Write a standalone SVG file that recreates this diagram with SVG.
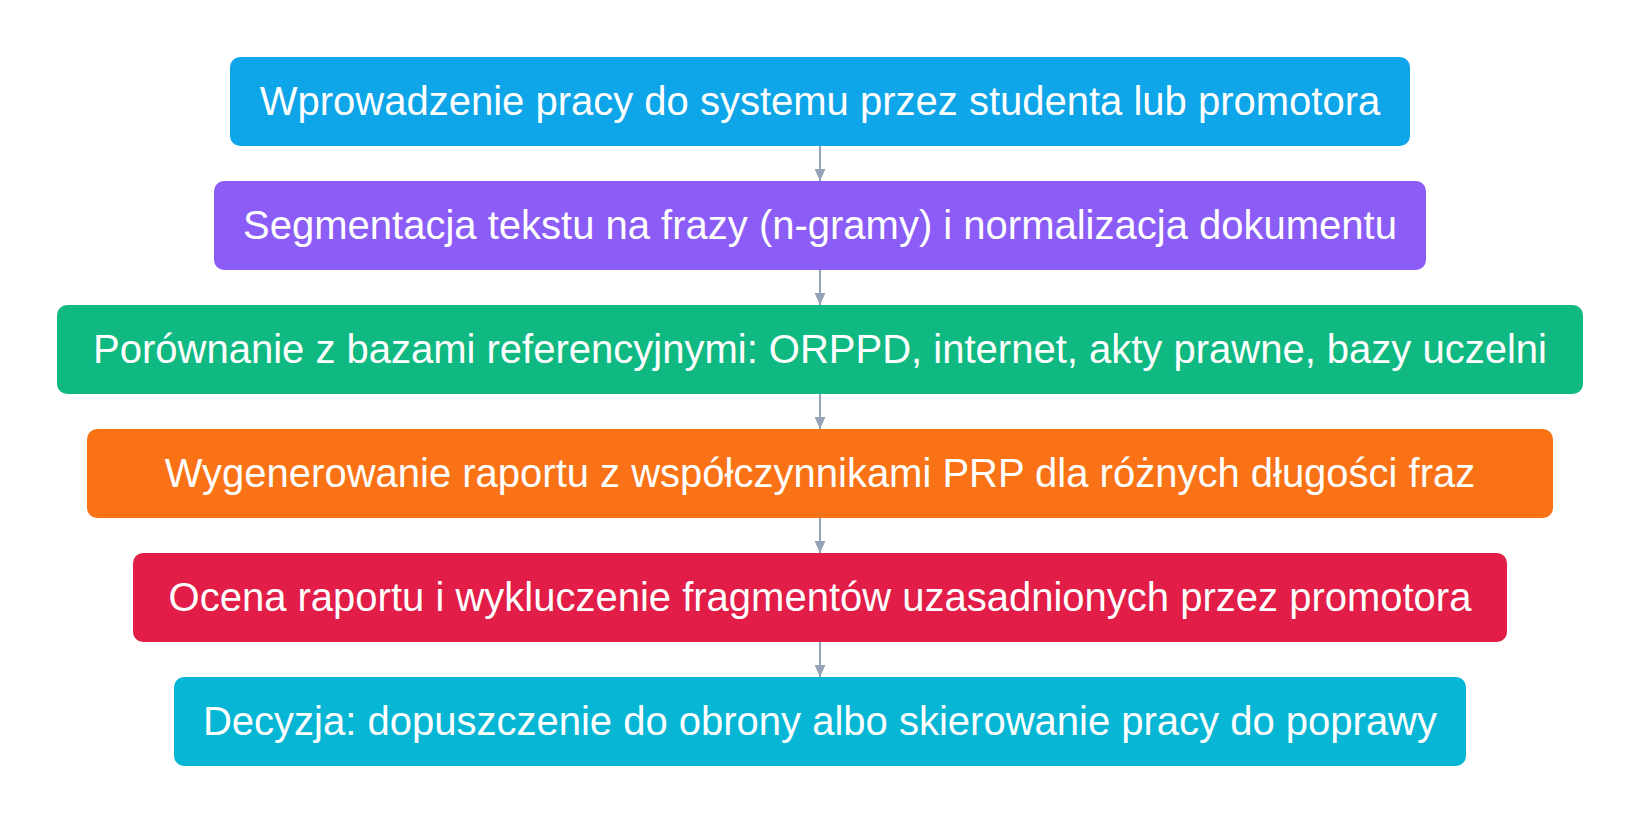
<svg xmlns="http://www.w3.org/2000/svg" width="1640" height="823" viewBox="0 0 1640 823">
<style>
.node text{font-family:"Liberation Sans",Arial,sans-serif;font-size:40px;fill:#ffffff;text-anchor:middle}
.edge{stroke:#94a3b8;stroke-width:2;fill:none}
</style>
<defs>
<marker id="arr" markerWidth="12" markerHeight="11" refX="10" refY="5" orient="auto" markerUnits="userSpaceOnUse" viewBox="0 0 10 10" preserveAspectRatio="none">
<path d="M0,0 L10,5 L0,10 z" fill="#94a3b8"/>
</marker>
</defs>
<rect width="1640" height="823" fill="#ffffff"/>
<g id="connectors">
<line class="edge" x1="820" y1="146" x2="820" y2="181" marker-end="url(#arr)"/>
<line class="edge" x1="820" y1="270" x2="820" y2="305" marker-end="url(#arr)"/>
<line class="edge" x1="820" y1="394" x2="820" y2="429" marker-end="url(#arr)"/>
<line class="edge" x1="820" y1="518" x2="820" y2="553" marker-end="url(#arr)"/>
<line class="edge" x1="820" y1="642" x2="820" y2="677" marker-end="url(#arr)"/>
</g>
<g id="n1" class="node"><rect x="230" y="57" width="1180" height="89" rx="10" fill="#0ea5e9"/><text x="820" y="115">Wprowadzenie pracy do systemu przez studenta lub promotora</text></g>
<g id="n2" class="node"><rect x="214" y="181" width="1212" height="89" rx="10" fill="#8b5cf6"/><text x="820" y="239">Segmentacja tekstu na frazy (n-gramy) i normalizacja dokumentu</text></g>
<g id="n3" class="node"><rect x="57" y="305" width="1526" height="89" rx="10" fill="#10b981"/><text x="820" y="363">Porównanie z bazami referencyjnymi: ORPPD, internet, akty prawne, bazy uczelni</text></g>
<g id="n4" class="node"><rect x="87" y="429" width="1466" height="89" rx="10" fill="#f97316"/><text x="820" y="487">Wygenerowanie raportu z współczynnikami PRP dla różnych długości fraz</text></g>
<g id="n5" class="node"><rect x="133" y="553" width="1374" height="89" rx="10" fill="#e11d48"/><text x="820" y="611">Ocena raportu i wykluczenie fragmentów uzasadnionych przez promotora</text></g>
<g id="n6" class="node"><rect x="174" y="677" width="1292" height="89" rx="10" fill="#06b6d4"/><text x="820" y="735">Decyzja: dopuszczenie do obrony albo skierowanie pracy do poprawy</text></g>
</svg>
